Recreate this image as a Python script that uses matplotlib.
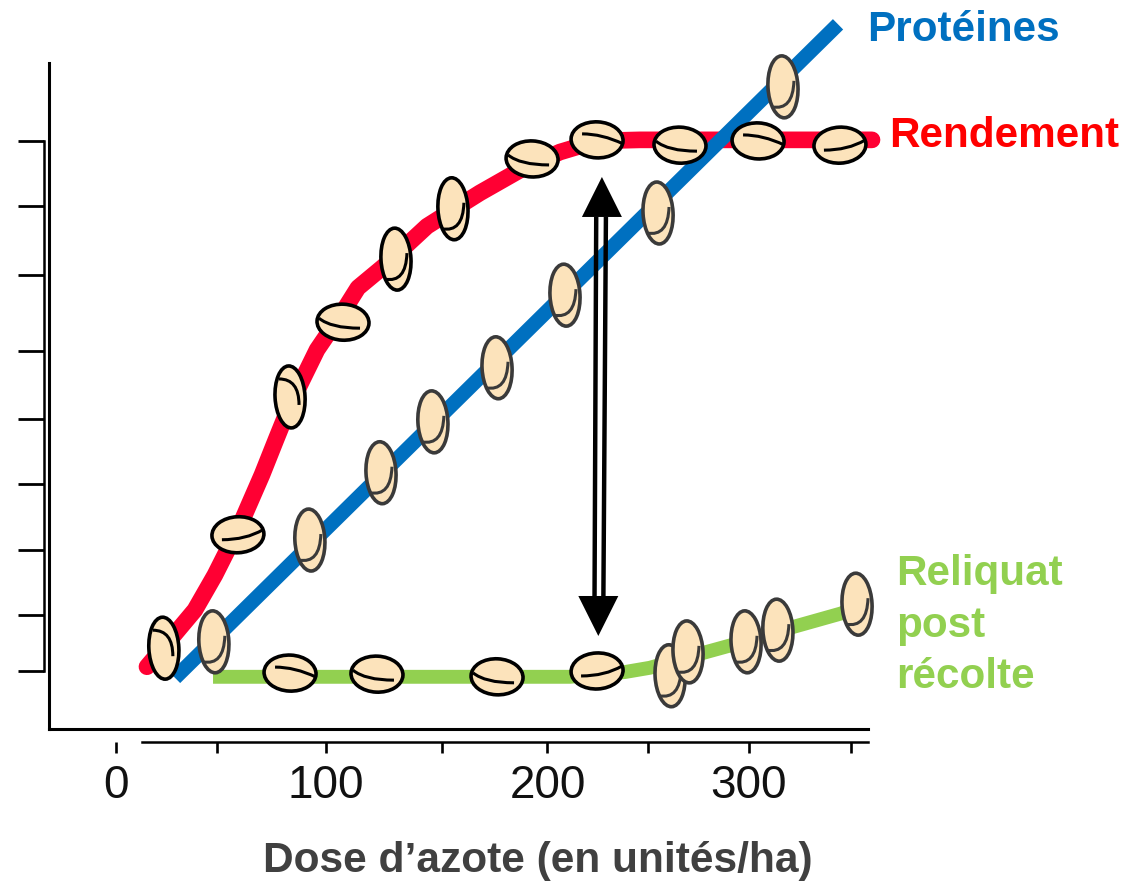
import matplotlib
matplotlib.use("Agg")
import matplotlib.pyplot as plt
from matplotlib.patches import Ellipse, PathPatch, Polygon
from matplotlib.path import Path
from matplotlib.transforms import ScaledTranslation

plt.rcParams['font.family'] = ['Liberation Sans', 'DejaVu Sans']

# ---- data (dose in units/ha, response in relative units) ----
x_tick_values = [0, 48, 99.5, 154.5, 204.5, 252, 300, 348.5]
x_tick_labels = ['0', '', '100', '', '200', '', '300', '']
y_tick_values = [100, 87.7, 74.7, 60.4, 47.5, 35.3, 22.8, 10.5, 0]

red_x = [14.7, 25.6, 37.4, 46.9, 58.8, 69.2, 75.8, 82.5, 95.3, 107.6, 114.7, 126.5, 147.4, 159.7, 172.5, 191.5, 210.4, 228, 248.3, 267.3, 305.2, 343.1, 358.3]
red_y = [0.8, 5.9, 11.5, 18.1, 27.5, 37, 43.6, 50.2, 60.6, 67.8, 72.3, 76.2, 83.9, 87, 90.2, 94.5, 97.9, 100, 100.2, 100.2, 100.2, 100.2, 100.2]
blue_x = [28, 342.2]
blue_y = [-1.3, 122]
green_x = [46, 215.2, 241.2, 253, 278.2, 291.9, 320.9, 344.1, 351.2]
green_y = [-1.1, -1.1, -0.2, 0.6, 3.4, 4.9, 8.3, 10.9, 12.5]

red_grain_x = [22.7, 57.8, 82.5, 107.6, 132.7, 159.7, 197.2, 228, 267.3, 304.3, 343.1]
red_grain_y = [4.3, 25.7, 51.7, 65.8, 77.7, 87.2, 96.6, 100.2, 99.2, 100, 99.2]
red_grain_kind = ['ta', 'fu', 'ta', 'fe', 'tb', 'tb', 'fe', 'fd', 'fe', 'fd', 'fu']
blue_grain_x = [46.4, 91.9, 125.6, 150.2, 180.6, 212.8, 256.9, 316.1]
blue_grain_y = [5.5, 24.7, 37.4, 47, 57.2, 70.9, 86.4, 110.2]
green_grain_x = [82.5, 123.7, 180.6, 228, 262.6, 271.1, 298.6, 313.7, 351.2]
green_grain_y = [-0.4, -0.6, -1.1, 0, -0.9, 3.6, 5.5, 7.7, 12.6]
green_grain_kind = ['fd', 'fe', 'fe', 'fu', 'tb', 'tb', 'tb', 'tb', 'tb']

arrow_top = (230.3, 93.2)
arrow_bottom = (228.6, 6.6)
shaft_x_left = [226.8, 227.6]
shaft_x_right = [231.0, 232.2]
shaft_y = [14, 85.7]

# ---- layout ----
W, H = 1132, 882
fig = plt.figure(figsize=(W / 100, H / 100), dpi=100, facecolor='white')

def box(l, t, r, b):
    return [l / W, 1 - b / H, (r - l) / W, (b - t) / H]

frame = fig.add_axes(box(49, 63, 868, 729), facecolor='none')
frame.set_xticks([]); frame.set_yticks([])
frame.spines[['top', 'right']].set_visible(False)
frame.spines[['left', 'bottom']].set_linewidth(2.2)

ax = fig.add_axes(box(44, 63, 868, 742), facecolor='none')
ax.set_xlim(-34.1, 356.4)
ax.set_ylim(-13.4, 114.7)
ax.spines[['top', 'right']].set_visible(False)
ax.spines['left'].set_bounds(0, 100)
ax.spines['bottom'].set_bounds(12.3, 356.4)
ax.spines[['left', 'bottom']].set_linewidth(1.8)
ax.set_yticks(y_tick_values, [''] * len(y_tick_values))
ax.set_xticks(x_tick_values, x_tick_labels, fontsize=33, color='#111111')
ax.tick_params(axis='y', length=18.5, width=2.0)
ax.tick_params(axis='x', length=8, width=1.9, pad=7.5)

RED, BLUE, GREEN = '#FF0033', '#0070C0', '#92D050'
ax.plot(red_x, red_y, color=RED, lw=12, solid_capstyle='round', solid_joinstyle='round', clip_on=False, zorder=2)
ax.plot(green_x, green_y, color=GREEN, lw=10, solid_capstyle='butt', solid_joinstyle='round', clip_on=False, zorder=2)
ax.plot(blue_x, blue_y, color=BLUE, lw=10.5, solid_capstyle='butt', clip_on=False, zorder=3)

# grain kinds: (width, height, tilt, curve as 3 bezier points in px, y up)
KINDS = {
    'ta': (30, 62, 3, [(-11, 18), (9, 18), (9, -8)]),
    'tb': (30, 62, 3, [(11, 6), (10, -24), (-11, -20)]),
    'fd': (52, 36, -3, [(-15, 6), (5, 6), (26, -4)]),
    'fe': (52, 36, -3, [(-24, 4), (-12, -6), (17, -6)]),
    'fu': (52, 36, 3, [(-16, -5), (8, -5), (25, 5)]),
}

def grain(x, y, kind, edge='black', zorder=5):
    w, h, tilt, curve = KINDS[kind]
    tr = fig.dpi_scale_trans + ScaledTranslation(x, y, ax.transData)
    ax.add_patch(Ellipse((0, 0), w / 100, h / 100, angle=tilt, facecolor='#FCE3BB',
                         edgecolor=edge, lw=2.6, transform=tr, clip_on=False, zorder=zorder))
    pts = [(a / 100, b / 100) for a, b in curve]
    ax.add_patch(PathPatch(Path(pts, [Path.MOVETO, Path.CURVE3, Path.CURVE3]), facecolor='none',
                           edgecolor=edge, lw=2.2, transform=tr, clip_on=False, zorder=zorder))

for gx, gy, k in zip(red_grain_x, red_grain_y, red_grain_kind):
    grain(gx, gy, k)
for i, (gx, gy) in enumerate(zip(blue_grain_x, blue_grain_y)):
    grain(gx, gy, 'tb', edge='#3a3a3a', zorder=5 + i * 0.01)
for i, (gx, gy, k) in enumerate(zip(green_grain_x, green_grain_y, green_grain_kind)):
    grain(gx, gy, k, edge='black' if k != 'tb' else '#3a3a3a', zorder=5 + i * 0.01)

# double arrow
for sx in (shaft_x_left, shaft_x_right):
    ax.plot(sx, shaft_y, color='black', lw=3.2, solid_capstyle='butt', clip_on=False, zorder=4)
for (ax_x, ax_y), sign in ((arrow_top, -1), (arrow_bottom, 1)):
    tr = fig.dpi_scale_trans + ScaledTranslation(ax_x, ax_y, ax.transData)
    ax.add_patch(Polygon([(0, 0), (-0.20, sign * 0.40), (0.20, sign * 0.40)], closed=True,
                         facecolor='black', edgecolor='none', transform=tr, clip_on=False, zorder=6))

def label(px, py, s, color, ha='left', size=30.4):
    fig.text(px / W, 1 - py / H, s, color=color, fontsize=size, fontweight='bold', ha=ha, va='center')

label(867, 30, 'Protéines', BLUE)
label(889, 136, 'Rendement', '#FF0000')
label(896, 574, 'Reliquat', GREEN)
label(896, 626, 'post', GREEN)
label(896, 677, 'récolte', GREEN)
label(538, 861, 'Dose d’azote (en unités/ha)', '#404040', ha='center', size=30.6)

fig.savefig('out.png', dpi=100)
